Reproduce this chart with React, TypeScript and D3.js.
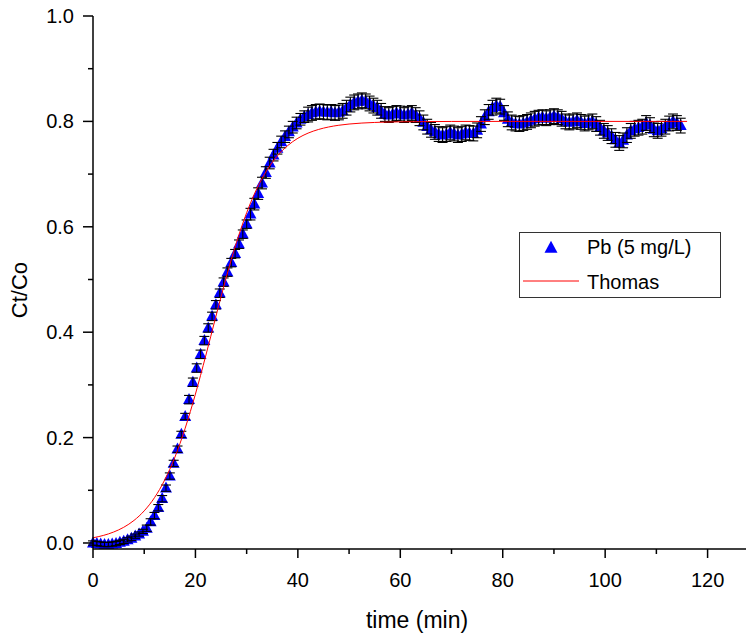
import React from 'react';
import * as d3 from 'd3';

const time = [0, 0.75, 1.5, 2.25, 3, 3.75, 4.5, 5.25, 6, 6.75, 7.5, 8.25, 9, 9.75, 10.5, 11.25, 12, 12.75, 13.5, 14.25, 15, 15.75, 16.5, 17.25, 18, 18.75, 19.5, 20.25, 21, 21.75, 22.5, 23.25, 24, 24.75, 25.5, 26.25, 27, 27.75, 28.5, 29.25, 30, 30.75, 31.5, 32.25, 33, 33.75, 34.5, 35.25, 36, 36.75, 37.5, 38.25, 39, 39.75, 40.5, 41.25, 42, 42.75, 43.5, 44.25, 45, 45.75, 46.5, 47.25, 48, 48.75, 49.5, 50.25, 51, 51.75, 52.5, 53.25, 54, 54.75, 55.5, 56.25, 57, 57.75, 58.5, 59.25, 60, 60.75, 61.5, 62.25, 63, 63.75, 64.5, 65.25, 66, 66.75, 67.5, 68.25, 69, 69.75, 70.5, 71.25, 72, 72.75, 73.5, 74.25, 75, 75.75, 76.5, 77.25, 78, 78.75, 79.5, 80.25, 81, 81.75, 82.5, 83.25, 84, 84.75, 85.5, 86.25, 87, 87.75, 88.5, 89.25, 90, 90.75, 91.5, 92.25, 93, 93.75, 94.5, 95.25, 96, 96.75, 97.5, 98.25, 99, 99.75, 100.5, 101.25, 102, 102.75, 103.5, 104.25, 105, 105.75, 106.5, 107.25, 108, 108.75, 109.5, 110.25, 111, 111.75, 112.5, 113.25, 114, 114.75];

const ctco = [
  0.000, -0.001, -0.002, -0.003, -0.003, -0.002, -0.001, 0.001, 0.003, 0.006,
  0.009, 0.013, 0.017, 0.022, 0.028, 0.040, 0.052, 0.067, 0.084, 0.104,
  0.127, 0.151, 0.178, 0.206, 0.240, 0.272, 0.305, 0.332, 0.358, 0.384,
  0.408, 0.430, 0.452, 0.474, 0.495, 0.514, 0.532, 0.549, 0.567, 0.586,
  0.605, 0.624, 0.643, 0.663, 0.683, 0.703, 0.721, 0.736, 0.749, 0.761,
  0.771, 0.780, 0.789, 0.797, 0.804, 0.809, 0.813, 0.816, 0.818, 0.819,
  0.818, 0.817, 0.818, 0.816, 0.817, 0.820, 0.826, 0.832, 0.836, 0.838,
  0.840, 0.838, 0.834, 0.830, 0.826, 0.820, 0.814, 0.812, 0.814, 0.816,
  0.815, 0.812, 0.814, 0.816, 0.812, 0.806, 0.798, 0.790, 0.784, 0.780,
  0.776, 0.774, 0.776, 0.779, 0.777, 0.774, 0.776, 0.779, 0.778, 0.777,
  0.783, 0.795, 0.808, 0.818, 0.826, 0.830, 0.828, 0.816, 0.804, 0.798,
  0.796, 0.795, 0.797, 0.799, 0.802, 0.805, 0.807, 0.808, 0.806, 0.808,
  0.810, 0.808, 0.805, 0.800, 0.798, 0.800, 0.802, 0.799, 0.796, 0.798,
  0.800, 0.795, 0.788, 0.782, 0.778, 0.772, 0.765, 0.759, 0.764, 0.774,
  0.782, 0.786, 0.788, 0.790, 0.797, 0.793, 0.785, 0.782, 0.786, 0.790,
  0.796, 0.800, 0.797, 0.792,
];

const ctcoErr = [
  0.004, 0.004, 0.004, 0.004, 0.004, 0.004, 0.004, 0.004, 0.004, 0.004,
  0.004, 0.004, 0.004, 0.004, 0.006, 0.006, 0.006, 0.006, 0.006, 0.006,
  0.006, 0.006, 0.006, 0.006, 0.006, 0.008, 0.008, 0.008, 0.008, 0.008,
  0.008, 0.008, 0.008, 0.008, 0.008, 0.008, 0.008, 0.008, 0.008, 0.008,
  0.008, 0.011, 0.011, 0.011, 0.011, 0.011, 0.011, 0.011, 0.011, 0.011,
  0.011, 0.011, 0.011, 0.011, 0.011, 0.011, 0.014, 0.014, 0.014, 0.014,
  0.014, 0.014, 0.014, 0.014, 0.014, 0.014, 0.014, 0.014, 0.014, 0.014,
  0.014, 0.014, 0.014, 0.014, 0.014, 0.014, 0.014, 0.014, 0.014, 0.014,
  0.014, 0.014, 0.014, 0.014, 0.014, 0.014, 0.014, 0.014, 0.014, 0.014,
  0.014, 0.014, 0.014, 0.014, 0.014, 0.014, 0.014, 0.014, 0.014, 0.014,
  0.014, 0.014, 0.014, 0.014, 0.014, 0.014, 0.014, 0.014, 0.014, 0.014,
  0.014, 0.014, 0.014, 0.014, 0.014, 0.014, 0.014, 0.014, 0.014, 0.014,
  0.014, 0.014, 0.014, 0.014, 0.014, 0.014, 0.014, 0.014, 0.014, 0.014,
  0.014, 0.014, 0.014, 0.014, 0.014, 0.014, 0.014, 0.014, 0.014, 0.014,
  0.014, 0.014, 0.014, 0.014, 0.014, 0.014, 0.014, 0.014, 0.014, 0.014,
  0.014, 0.014, 0.014, 0.014,
];

const thomasTime = [0, 2, 4, 6, 8, 10, 12, 14, 16, 18, 20, 22, 24, 26, 28, 30, 32, 34, 36, 38, 40, 42, 44, 46, 48, 50, 55, 60, 70, 80, 90, 100, 110, 116];
const thomasValue = [0.0099, 0.0143, 0.0207, 0.0298, 0.0428, 0.061, 0.0859, 0.1196, 0.163, 0.2179, 0.2826, 0.3548, 0.430, 0.5034, 0.5698, 0.6266, 0.6725, 0.708, 0.7346, 0.754, 0.768, 0.7778, 0.7846, 0.7894, 0.7927, 0.795, 0.798, 0.7992, 0.7999, 0.8, 0.8, 0.8, 0.8, 0.8];

const xMajorTicks = [0, 20, 40, 60, 80, 100, 120];
const xMinorTicks = [10, 30, 50, 70, 90, 110];
const yMajorTicks = [0, 0.2, 0.4, 0.6, 0.8, 1.0];
const yMinorTicks = [0.1, 0.3, 0.5, 0.7, 0.9];

const seriesName = 'Pb (5 mg/L)';
const modelName = 'Thomas';
const xTitle = 'time (min)';
const yTitle = 'Ct/Co';

const W = 746;
const H = 635;
const FONT = 'Liberation Sans, Arial, sans-serif';

function triPath(cx: number, cy: number, w: number, h: number) {
  return `M${cx},${cy - h * 0.6}L${cx + w / 2},${cy + h * 0.4}L${cx - w / 2},${cy + h * 0.4}Z`;
}

export default function App() {
  const x = d3.scaleLinear().domain([0, 127.5]).range([93, 746]);
  const y = d3.scaleLinear().domain([-0.0114, 1]).range([549, 16]);
  const axisY = 549;
  const axisX = 93;

  const line = d3
    .line<number>()
    .x((_, i) => x(thomasTime[i]))
    .y((d) => y(d))
    .curve(d3.curveMonotoneX);

  const fmt = d3.format('.1f');

  return (
    <svg width={W} height={H} style={{ position: 'absolute', left: 0, top: 0, background: '#fff' }} fontFamily={FONT}>
      <rect x={0} y={0} width={W} height={H} fill="#fff" />
      {/* markers */}
      <g fill="#0000ff">
        {ctco.map((v, i) => (
          <path key={i} d={triPath(x(time[i]), y(v), 12, 11)} />
        ))}
      </g>
      {/* error bars */}
      <g stroke="#000" strokeWidth={1.1} fill="none">
        {ctco.map((v, i) => {
          const cx = x(time[i]);
          const y1 = y(v + ctcoErr[i]);
          const y2 = y(v - ctcoErr[i]);
          return (
            <g key={i}>
              <line x1={cx} x2={cx} y1={y1} y2={y2} />
              <line x1={cx - 5} x2={cx + 5} y1={y1} y2={y1} />
              <line x1={cx - 5} x2={cx + 5} y1={y2} y2={y2} />
            </g>
          );
        })}
      </g>
      {/* Thomas model */}
      <path d={line(thomasValue) || ''} fill="none" stroke="#ff0000" strokeWidth={1} />

      {/* axes */}
      <g stroke="#000" strokeWidth={1.5}>
        <line x1={axisX} x2={axisX} y1={y(1)} y2={axisY} />
        <line x1={axisX} x2={746} y1={axisY} y2={axisY} />
        {xMajorTicks.map((t) => (
          <line key={'xM' + t} x1={x(t)} x2={x(t)} y1={axisY} y2={axisY + 9} />
        ))}
        {xMinorTicks.map((t) => (
          <line key={'xm' + t} x1={x(t)} x2={x(t)} y1={axisY} y2={axisY + 5} />
        ))}
        {yMajorTicks.map((t) => (
          <line key={'yM' + t} x1={axisX - 10} x2={axisX} y1={y(t)} y2={y(t)} />
        ))}
        {yMinorTicks.map((t) => (
          <line key={'ym' + t} x1={axisX - 5} x2={axisX} y1={y(t)} y2={y(t)} />
        ))}
      </g>
      <g fontSize={20} fill="#000">
        {xMajorTicks.map((t) => (
          <text key={'xl' + t} x={x(t)} y={587} textAnchor="middle">
            {t}
          </text>
        ))}
        {yMajorTicks.map((t) => (
          <text key={'yl' + t} x={74} y={y(t) + 7} textAnchor="end">
            {fmt(t)}
          </text>
        ))}
      </g>
      <text x={417} y={628} fontSize={23} textAnchor="middle" fill="#000">
        {xTitle}
      </text>
      <text transform={`translate(27,290) rotate(-90)`} fontSize={22} textAnchor="middle" fill="#000">
        {yTitle}
      </text>

      {/* legend */}
      <rect x={519.5} y={232.5} width={201} height={65} fill="#fff" stroke="#333" strokeWidth={1} />
      <path d={triPath(551, 248, 13, 12)} fill="#0000ff" />
      <text x={587} y={254} fontSize={20} fill="#000">
        {seriesName}
      </text>
      <line x1={523} x2={579} y1={281} y2={281} stroke="#ff0000" strokeWidth={1} />
      <text x={587} y={289} fontSize={20} fill="#000">
        {modelName}
      </text>
    </svg>
  );
}
